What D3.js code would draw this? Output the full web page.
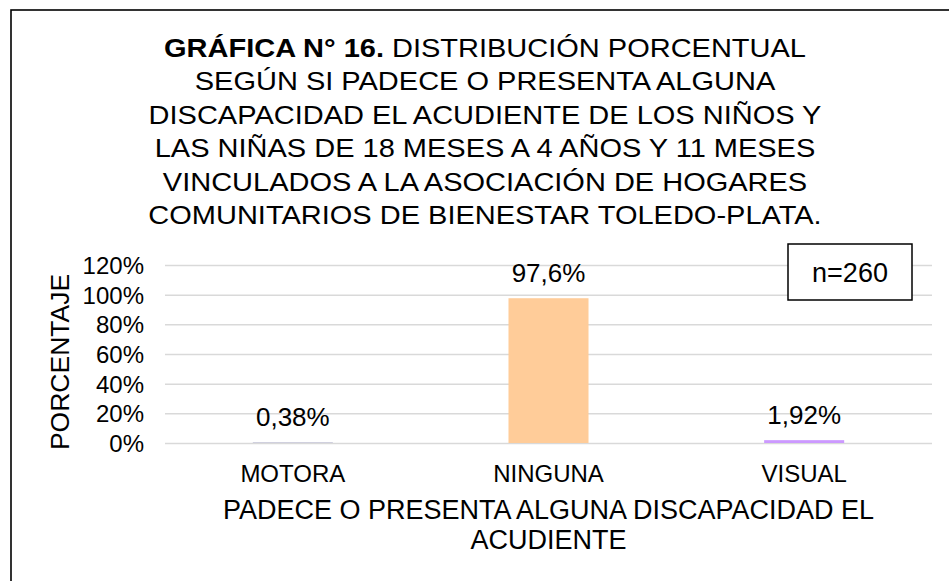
<!DOCTYPE html>
<html>
<head>
<meta charset="utf-8">
<script src="https://cdn.jsdelivr.net/npm/d3@7"></script>
<style>
  body { margin: 0; background: #fff; }
  text { font-family: "Liberation Sans", Arial, sans-serif; fill: #000; }
</style>
</head>
<body>
<svg id="chart" width="949" height="581"></svg>
<script>
// data
var categories = ["MOTORA", "NINGUNA", "VISUAL"];
var values = [0.38, 97.6, 1.92];
var valueLabels = ["0,38%", "97,6%", "1,92%"];
var barColors = ["#b3b3cc", "#ffcc99", "#cc99ff"];
var yTicks = [0, 20, 40, 60, 80, 100, 120];
var titleLines = [
	"SEGÚN SI PADECE O PRESENTA ALGUNA",
	"DISCAPACIDAD EL ACUDIENTE DE LOS NIÑOS Y",
	"LAS NIÑAS DE 18 MESES A 4 AÑOS Y 11 MESES",
	"VINCULADOS A LA ASOCIACIÓN DE HOGARES",
	"COMUNITARIOS DE BIENESTAR TOLEDO-PLATA."
];
var xTitleLines = ["PADECE O PRESENTA ALGUNA DISCAPACIDAD EL", "ACUDIENTE"];

var svg = d3.select("#chart"),
	margin = {top: 265, left: 165, bottom: 138, right: 17},
	width = +svg.attr("width"),
	height = +svg.attr("height");

// outer frame (only top and left edges show in the picture)
svg.append("rect")
	.attr("x", 11).attr("y", 10)
	.attr("width", 960).attr("height", 600)
	.attr("fill", "none")
	.attr("stroke", "#000")
	.attr("stroke-width", 1.6);

var x = d3.scaleBand()
	.domain(categories)
	.range([margin.left, width - margin.right])
	.paddingInner(0.687)
	.paddingOuter(0.3435);

var y = d3.scaleLinear()
	.domain([0, 120])
	.range([height - margin.bottom, margin.top]);

// gridlines
svg.append("g")
	.attr("class", "grid")
	.attr("transform", `translate(${margin.left},0)`)
	.call(d3.axisLeft(y).tickValues(yTicks).tickSize(-(width - margin.right - margin.left)).tickFormat(""))
	.call(g => g.select(".domain").remove())
	.selectAll("line")
	.attr("stroke", "#d9d9d9")
	.attr("stroke-width", 1.5);

// y tick labels
svg.append("g")
	.attr("transform", `translate(${margin.left - 21},0)`)
	.call(d3.axisLeft(y).tickValues(yTicks).tickSize(0).tickPadding(0).tickFormat(d => d + "%"))
	.call(g => g.select(".domain").remove())
	.selectAll("text")
	.style("font-family", '"Liberation Sans", Arial, sans-serif')
	.style("font-size", "24px")
	.attr("dy", "0.36em");

// bars
svg.selectAll("rect.bar")
	.data(values)
	.enter().append("rect")
	.attr("class", "bar")
	.attr("x", (d, i) => x(categories[i]))
	.attr("width", x.bandwidth())
	.attr("y", d => y(d))
	.attr("height", d => y(0) - y(d))
	.attr("fill", (d, i) => barColors[i]);

// value labels
svg.selectAll("text.val")
	.data(values)
	.enter().append("text")
	.attr("class", "val")
	.attr("x", (d, i) => x(categories[i]) + x.bandwidth() / 2)
	.attr("y", d => y(d) - 16)
	.attr("text-anchor", "middle")
	.style("font-size", "26px")
	.text((d, i) => valueLabels[i]);

// category labels
svg.append("g")
	.attr("transform", `translate(0,${height - margin.bottom})`)
	.call(d3.axisBottom(x).tickSize(0).tickPadding(0))
	.call(g => g.select(".domain").remove())
	.selectAll("text")
	.style("font-family", '"Liberation Sans", Arial, sans-serif')
	.style("font-size", "24px")
	.attr("y", 38.5)
	.attr("dy", 0);

// x axis title
svg.append("text")
	.attr("x", (margin.left + width - margin.right) / 2)
	.attr("y", 519)
	.attr("text-anchor", "middle")
	.style("font-size", "27px")
	.selectAll("tspan")
	.data(xTitleLines)
	.enter().append("tspan")
	.attr("x", (margin.left + width - margin.right) / 2)
	.attr("dy", (d, i) => i ? 30 : 0)
	.text(d => d);

// y axis title
svg.append("text")
	.attr("transform", "translate(69,362) rotate(-90)")
	.attr("text-anchor", "middle")
	.style("font-size", "26.5px")
	.text("PORCENTAJE");

// n box
svg.append("rect")
	.attr("x", 788).attr("y", 244)
	.attr("width", 124).attr("height", 56)
	.attr("fill", "#fff")
	.attr("stroke", "#000")
	.attr("stroke-width", 1.5);
svg.append("text")
	.attr("x", 850).attr("y", 282)
	.attr("text-anchor", "middle")
	.style("font-size", "27px")
	.text("n=260");

// title, slightly wider than tall as in the picture
var title = svg.append("g")
	.attr("transform", "translate(485,0) scale(1.16,1)");
var first = title.append("text")
	.attr("x", 0).attr("y", 57)
	.attr("text-anchor", "middle")
	.style("font-size", "25px");
first.append("tspan").style("font-weight", "bold").text("GRÁFICA N° 16.");
first.append("tspan").text(" DISTRIBUCIÓN PORCENTUAL");
title.selectAll("text.tl")
	.data(titleLines)
	.enter().append("text")
	.attr("class", "tl")
	.attr("x", 0)
	.attr("y", (d, i) => 57 + (i + 1) * 33.4)
	.attr("text-anchor", "middle")
	.style("font-size", "25px")
	.text(d => d);
</script>
</body>
</html>
